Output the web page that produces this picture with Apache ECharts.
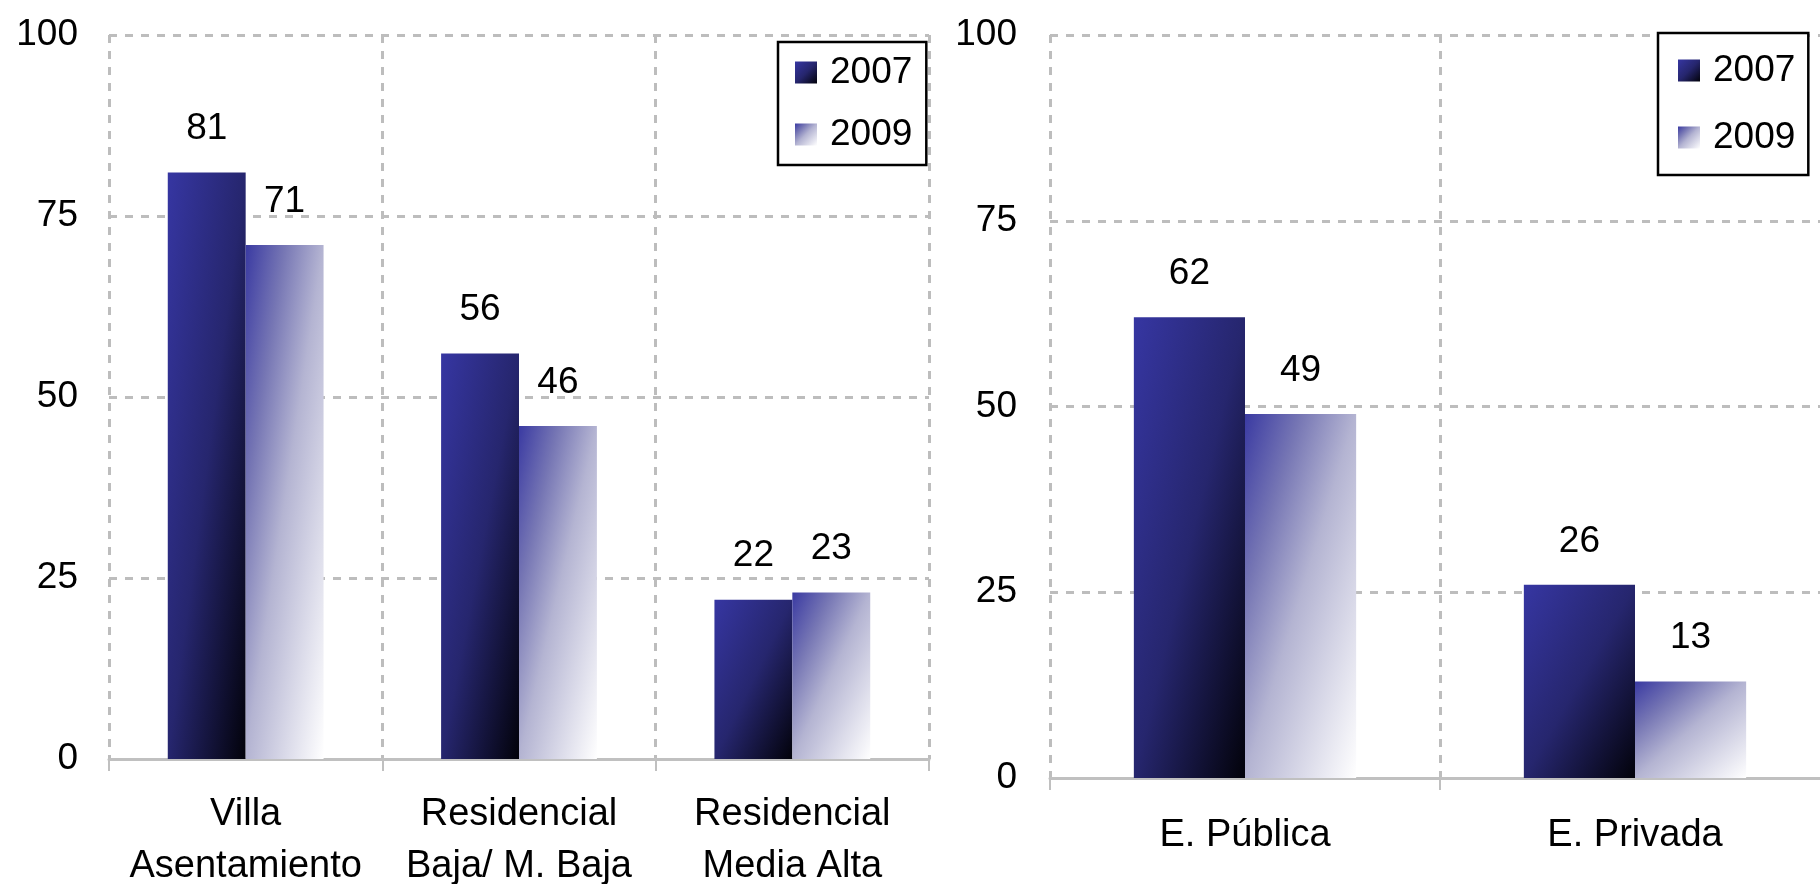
<!DOCTYPE html>
<html>
<head>
<meta charset="utf-8">
<script src="https://cdn.jsdelivr.net/npm/echarts@6/dist/echarts.min.js"></script>
<style>
	html,body{margin:0;padding:0;background:#fff;}
	#draw_1{width:1820px;height:884px;}
</style>
</head>
<body>
<div id="draw_1"></div>
<script>
var years = ['2007', '2009'];
var catsA = ['Villa\nAsentamiento', 'Residencial\nBaja/ M. Baja', 'Residencial\nMedia Alta'];
var a2007 = [81, 56, 22];
var a2009 = [71, 46, 23];
var catsB = ['E. Pública', 'E. Privada'];
var b2007 = [62, 26];
var b2009 = [49, 13];
var yMin = 0, yMax = 100, yStep = 25;

var font = 'Liberation Sans, Arial, sans-serif';
var grids = [
	{left: 109, top: 35, width: 820, height: 724, outerBoundsMode: 'none'},
	{left: 1050, top: 35, width: 780, height: 743, outerBoundsMode: 'none'}
];
var gapPct = 43;
var dash = {color: '#bdbdbd', width: 3, type: [8, 8]};
var stops = {
	'2007': [[0, '#3636a2'], [0.5, '#26266e'], [1, '#02020a']],
	'2009': [[0, '#3a3aa2'], [0.25, '#7676b4'], [0.5, '#b4b4d2'], [1, '#ffffff']]
};

function grad(year, x2, y2){
	return new echarts.graphic.LinearGradient(0, 0, x2, y2, stops[year].map(function(s){
		return {offset: s[0], color: s[1]};
	}));
}

// diagonal gradient in the bar's own box (corner to corner, like the office charts)
function barColor(gi, year, nCats){
	return function(p){
		var g = grids[gi];
		var w = g.width / nCats * (1 - gapPct / 100) / 2;
		var h = Math.max(p.value / (yMax - yMin) * g.height, 1);
		var s = w * w + h * h;
		return grad(year, 2 * h * h / s, 2 * w * w / s);
	};
}

function xAxis(gi, cats, margin){
	return {
		type: 'category', gridIndex: gi, data: cats,
		axisLine: {lineStyle: {color: '#c0c0c0', width: 3}},
		axisTick: {show: true, length: 12, lineStyle: {color: '#c0c0c0', width: 2}},
		axisLabel: {color: '#000', fontFamily: font, fontSize: 38, lineHeight: 52, margin: margin, interval: 0},
		splitLine: {show: true, interval: 0, lineStyle: dash}
	};
}

function yAxis(gi, margin){
	return {
		type: 'value', gridIndex: gi, min: yMin, max: yMax, interval: yStep,
		axisLine: {show: false}, axisTick: {show: false},
		axisLabel: {color: '#000', fontFamily: font, fontSize: 37, margin: margin, padding: [0, 0, 6, 0]},
		splitLine: {lineStyle: dash}
	};
}

function bar(gi, year, vals, nCats){
	return {
		name: year, type: 'bar', xAxisIndex: gi, yAxisIndex: gi, data: vals,
		barGap: 0, barCategoryGap: gapPct + '%',
		itemStyle: {color: barColor(gi, year, nCats)},
		label: {show: true, position: 'top', distance: 25, color: '#000', fontFamily: font, fontSize: 37}
	};
}

function legend(left, top, pad, gap){
	return {
		orient: 'vertical', left: left, top: top, padding: pad, itemGap: gap,
		itemWidth: 22, itemHeight: 22, icon: 'rect',
		borderColor: '#000', borderWidth: 2.5, backgroundColor: '#fff',
		textStyle: {color: '#000', fontFamily: font, fontSize: 37, lineHeight: 37, padding: [0, 0, 0, 8]},
		data: years.map(function(y){ return {name: y, itemStyle: {color: grad(y, 1, 1)}}; })
	};
}

var myChart_1 = echarts.init(document.getElementById('draw_1'));
var option = {
	animation: false,
	grid: grids,
	xAxis: [xAxis(0, catsA, 30), xAxis(1, catsB, 32)],
	yAxis: [yAxis(0, 31), yAxis(1, 33)],
	legend: [legend(778, 42, [12, 14, 12, 17], 25), legend(1658, 33, [19, 13, 19, 20], 30)],
	series: [
		bar(0, '2007', a2007, catsA.length),
		bar(0, '2009', a2009, catsA.length),
		bar(1, '2007', b2007, catsB.length),
		bar(1, '2009', b2009, catsB.length)
	]
};
myChart_1.setOption(option, true);
</script>
</body>
</html>
